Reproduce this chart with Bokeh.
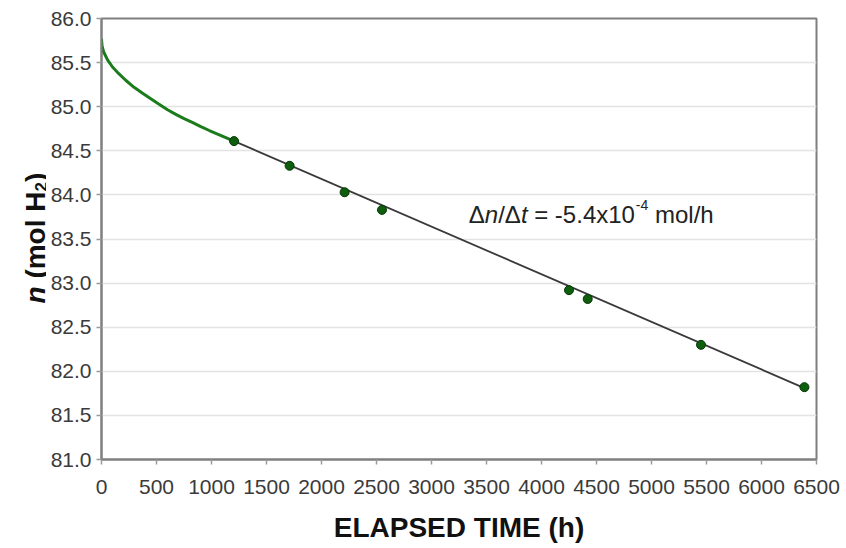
from bokeh.plotting import figure
from bokeh.layouts import row
from bokeh.models import Label, FixedTicker, NumeralTickFormatter, Range1d
from bokeh.core.properties import value
from bokeh.embed import file_html
from bokeh.resources import INLINE
import math

# ---- data ----
curve_t = [0, 5, 20, 55, 100, 145, 220, 296, 370, 448, 520, 600, 680, 751, 830, 903, 980, 1055, 1130, 1205]
curve_n = [85.77, 85.69, 85.62, 85.53, 85.45, 85.39, 85.30, 85.22, 85.155, 85.09, 85.03, 84.965, 84.91,
           84.865, 84.82, 84.775, 84.73, 84.69, 84.65, 84.61]

point_t = [1205, 1710, 2210, 2550, 4250, 4420, 5450, 6390]
point_n = [84.61, 84.33, 84.03, 83.83, 82.92, 82.82, 82.30, 81.82]

fit_t = [1205, 6390]
fit_n = [84.61, 81.81]

x_ticks = [0, 500, 1000, 1500, 2000, 2500, 3000, 3500, 4000, 4500, 5000, 5500, 6000, 6500]
y_ticks = [81.0, 81.5, 82.0, 82.5, 83.0, 83.5, 84.0, 84.5, 85.0, 85.5, 86.0]

x_title = "ELAPSED TIME (h)"
y_title_parts = ["n", "(mol H", "2", ")"]

FONT = "Liberation Sans"
TITLE_W = 46
Y_MIN, Y_MAX = 81, 86

# ---- y-axis title panel (frames in a row share top/bottom edges) ----
tp = figure(width=TITLE_W, height=548, output_backend="svg", toolbar_location=None,
            x_range=Range1d(0, TITLE_W), y_range=Range1d(Y_MIN, Y_MAX),
            min_border_left=0, min_border_right=0, min_border_top=18, min_border_bottom=89)
tp.axis.visible = False
tp.grid.grid_line_color = None
tp.outline_line_color = None
tp.background_fill_color = "white"
tp.border_fill_color = "white"

ang = math.pi / 2
title_specs = [  # (x px, y in axis units, part index, size, style)
    (35, 82.769, 0, "28px", "bold italic"),
    (35, 83.051, 1, "28px", "bold"),
    (40, 84.039, 2, "17px", "bold"),
    (35, 84.146, 3, "28px", "bold"),
]
for xx, yy, idx, size, style in title_specs:
    tp.text(x=[xx], y=[yy], text=[y_title_parts[idx]], angle=ang, text_font=value(FONT),
            text_font_size=size, text_font_style=style, text_color="#111111",
            text_baseline="alphabetic", text_align="left")

# ---- main chart ----
p = figure(width=846 - TITLE_W, height=548, output_backend="svg", toolbar_location=None,
           x_range=Range1d(0, 6500), y_range=Range1d(Y_MIN, Y_MAX),
           min_border_left=101 - TITLE_W, min_border_right=30, min_border_top=18, min_border_bottom=89)

p.outline_line_color = "#7f7f7f"
p.outline_line_width = 2
p.background_fill_color = "white"
p.border_fill_color = "white"

p.xgrid.grid_line_color = None
p.ygrid.grid_line_color = "#e3e3e3"
p.ygrid.grid_line_width = 1.5

p.xaxis.ticker = FixedTicker(ticks=x_ticks)
p.yaxis.ticker = FixedTicker(ticks=y_ticks)
p.yaxis.formatter = NumeralTickFormatter(format="0.0")

for ax in (p.xaxis, p.yaxis):
    ax.axis_line_color = "#7f7f7f"
    ax.axis_line_width = 2
    ax.major_tick_line_color = "#9a9a9a"
    ax.major_tick_line_width = 1.5
    ax.major_tick_out = 5
    ax.major_tick_in = 0
    ax.minor_tick_line_color = None
    ax.major_label_text_font = FONT
    ax.major_label_text_font_size = "21px"
    ax.major_label_text_color = "#3a3a3a"

p.xaxis.major_label_standoff = 15
p.yaxis.major_label_standoff = 5

p.xaxis.axis_label = x_title
p.xaxis.axis_label_text_font = FONT
p.xaxis.axis_label_text_font_size = "28px"
p.xaxis.axis_label_text_font_style = "bold"
p.xaxis.axis_label_text_color = "#111111"
p.xaxis.axis_label_standoff = 15

# curve, fit line, points
p.line(curve_t, curve_n, line_color="#1c7c1c", line_width=3)
p.line(fit_t, fit_n, line_color="#3a3a3a", line_width=1.8)
p.scatter(point_t, point_n, size=9, fill_color="#0e5e0e", line_color="#063806", line_width=1)

# annotation: Δn/Δt = -5.4x10^-4 mol/h
ax0 = 3339
ay0 = 83.78
pieces = [
    (0, 0, "Δ", "normal", "24px"),
    (16, 0, "n", "italic", "24px"),
    (29.4, 0, "/Δ", "normal", "24px"),
    (52.1, 0, "t", "italic", "24px"),
    (65.4, 0, "= -5.4x10", "normal", "24px"),
    (167, 9, "-4", "normal", "14px"),
    (186.2, 0, "mol/h", "normal", "24px"),
]
for dx, dy, txt, style, size in pieces:
    p.add_layout(Label(x=ax0, y=ay0, x_offset=dx, y_offset=dy, text=txt,
                       text_font=FONT, text_font_size=size, text_font_style=style,
                       text_color="#222222", text_baseline="alphabetic", text_align="left"))

layout = row(tp, p)
open("out.html", "w").write(file_html(layout, INLINE))
